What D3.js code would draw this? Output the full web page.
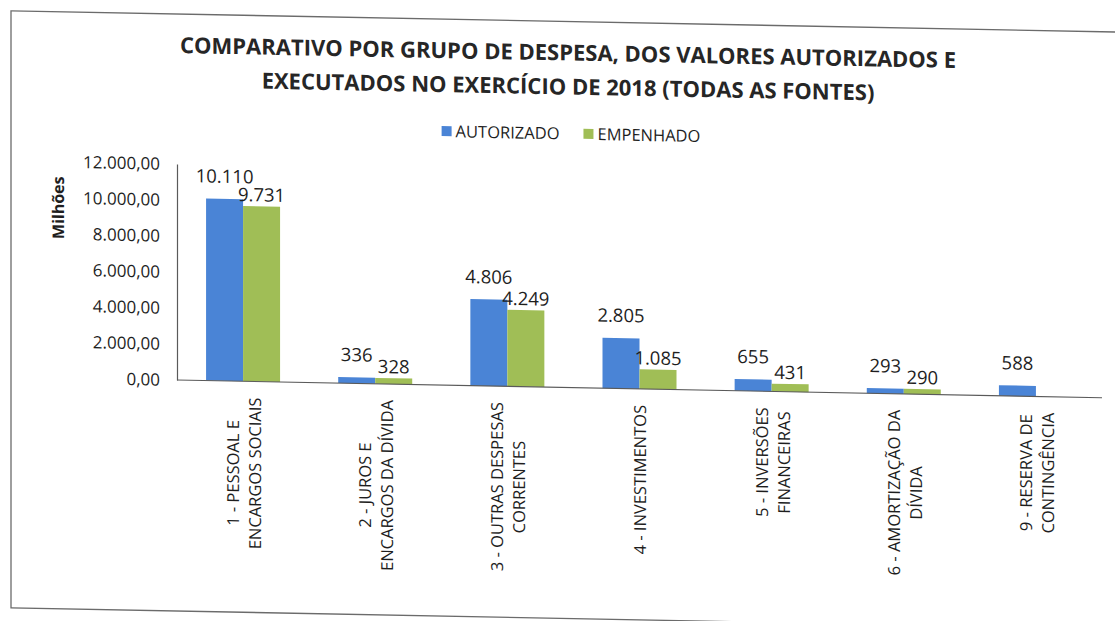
<!DOCTYPE html>
<html>
<head>
<meta charset="utf-8">
<script src="https://cdn.jsdelivr.net/npm/d3@7"></script>
<style>
  body { margin: 0; background: #ffffff; }
  text { font-family: "Open Sans", "Noto Sans", sans-serif; fill: #1e1e1e; }
</style>
</head>
<body>
<svg id="chart" width="1115" height="621"></svg>
<script>
// Chart data
var categories = [
  ["1 - PESSOAL E", "ENCARGOS SOCIAIS"],
  ["2 - JUROS E", "ENCARGOS DA DÍVIDA"],
  ["3 - OUTRAS DESPESAS", "CORRENTES"],
  ["4 - INVESTIMENTOS"],
  ["5 - INVERSÕES", "FINANCEIRAS"],
  ["6 - AMORTIZAÇÃO DA", "DÍVIDA"],
  ["9 - RESERVA DE", "CONTINGÊNCIA"]
];
var seriesNames = ["AUTORIZADO", "EMPENHADO"];
var autorizado = [10110, 336, 4806, 2805, 655, 293, 588];
var empenhado = [9731, 328, 4249, 1085, 431, 290, null];
var yTicks = [0, 2000, 4000, 6000, 8000, 10000, 12000];
var titleLines = [
  "COMPARATIVO POR GRUPO DE DESPESA, DOS VALORES AUTORIZADOS E",
  "EXECUTADOS NO EXERCÍCIO DE 2018 (TODAS AS FONTES)"
];
var yLabel = "Milhões";

var colors = ["#4a84d6", "#a0be56"];

// Layout (names avoid window.top etc.)
var plotLeft = 177, plotRight = 1102, plotTop = 164, plotBottom = 380;

var ptBR = d3.formatLocale({ decimal: ",", thousands: ".", grouping: [3], currency: ["R$", ""] });
var tickFmt = ptBR.format(",.2f");
var labelFmt = ptBR.format(",.0f");

var svg = d3.select("#chart");

// scanned page is slightly skewed
var g = svg.append("g")
  .attr("transform", "translate(" + plotLeft + "," + plotBottom + ") skewY(1.1) translate(" + (-plotLeft) + "," + (-plotBottom) + ")");

// Frame
g.append("rect")
  .attr("x", 11).attr("y", 14)
  .attr("width", 1160).attr("height", 597)
  .attr("fill", "none")
  .attr("stroke", "#6b6b6b")
  .attr("stroke-width", 1.3);

// Title, one text per line
g.append("g").selectAll("text")
  .data(titleLines)
  .join("text")
  .attr("text-anchor", "middle")
  .style("font-size", "22px")
  .style("font-weight", "bold")
  .style("fill", "#262626")
  .attr("x", 568)
  .attr("y", function(d, i) { return 53 + i * 34; })
  .text(function(d) { return d; });

// Scales
var x0 = d3.scaleBand()
  .domain(d3.range(categories.length))
  .range([plotLeft, plotRight])
  .paddingInner(0.44)
  .paddingOuter(0.22);

var x1 = d3.scaleBand()
  .domain([0, 1])
  .range([0, x0.bandwidth()]);

var y = d3.scaleLinear()
  .domain([0, 12000])
  .range([plotBottom, plotTop]);

// Y axis
var yAxis = g.append("g")
  .attr("transform", "translate(" + plotLeft + ",0)")
  .call(d3.axisLeft(y).tickValues(yTicks).tickFormat(tickFmt).tickSize(0).tickPadding(17));
yAxis.select(".domain").attr("stroke", "#5a5a5a").attr("stroke-width", 1.2);
yAxis.selectAll("text")
  .style("font-size", "17px")
  .style("font-family", "'Open Sans', sans-serif")
  .style("fill", "#1e1e1e");

// Y label
g.append("text")
  .attr("transform", "translate(58,210) rotate(-90)")
  .attr("text-anchor", "middle")
  .attr("dominant-baseline", "central")
  .style("font-size", "16px")
  .style("font-weight", "bold")
  .text(yLabel);

// Bars
var rows = categories.map(function(c, i) {
  return { i: i, values: [autorizado[i], empenhado[i]] };
});

var groups = g.append("g").selectAll("g")
  .data(rows)
  .join("g")
  .attr("transform", function(d) { return "translate(" + x0(d.i) + ",0)"; });

var cells = groups.selectAll("g")
  .data(function(d) {
    return d.values.map(function(v, s) { return { s: s, v: v }; })
      .filter(function(e) { return e.v != null; });
  })
  .join("g");

cells.append("rect")
  .attr("x", function(d) { return x1(d.s); })
  .attr("y", function(d) { return y(d.v); })
  .attr("width", x1.bandwidth())
  .attr("height", function(d) { return y(0) - y(d.v); })
  .attr("fill", function(d) { return colors[d.s]; });

// data labels (blue labels sit a bit higher in the original)
cells.append("text")
  .attr("x", function(d) { return x1(d.s) + x1.bandwidth() / 2; })
  .attr("y", function(d) { return y(d.v) - (d.s === 0 ? 16 : 5); })
  .attr("text-anchor", "middle")
  .style("font-size", "18.5px")
  .text(function(d) { return labelFmt(d.v); });

// X axis line
g.append("line")
  .attr("x1", plotLeft).attr("x2", plotRight)
  .attr("y1", plotBottom).attr("y2", plotBottom)
  .attr("stroke", "#5a5a5a")
  .attr("stroke-width", 1.2);

// Category labels, rotated
var catFont = 16.5, lineGap = 22, labelTop = 396;
var catLabels = g.append("g").selectAll("text")
  .data(categories)
  .join("text")
  .attr("text-anchor", "middle")
  .attr("dominant-baseline", "central")
  .style("font-size", catFont + "px");

catLabels.selectAll("tspan")
  .data(function(d) { return d.map(function(t, j) { return { t: t, j: j, n: d.length }; }); })
  .join("tspan")
  .attr("x", 0)
  .attr("y", function(d) { return (d.j - (d.n - 1) / 2) * lineGap; })
  .attr("dominant-baseline", "central")
  .text(function(d) { return d.t; });

catLabels.each(function(d, i) {
  var maxLen = 0;
  d3.select(this).selectAll("tspan").each(function() {
    maxLen = Math.max(maxLen, this.getComputedTextLength());
  });
  var cx = x0(i) + x0.bandwidth() / 2;
  d3.select(this).attr("transform", "translate(" + cx + "," + (labelTop + maxLen / 2) + ") rotate(-90)");
});

// Legend
var legend = g.append("g");
var legendItems = legend.selectAll("g")
  .data(seriesNames)
  .join("g");
legendItems.append("rect")
  .attr("width", 10).attr("height", 10)
  .attr("y", 121)
  .attr("fill", function(d, i) { return colors[i]; });
legendItems.append("text")
  .attr("x", 14)
  .attr("y", 132)
  .style("font-size", "16.5px")
  .text(function(d) { return d; });

var xPos = 0, positions = [];
legendItems.each(function() {
  positions.push(xPos);
  xPos += this.getBBox().width + 24;
});
var legendWidth = xPos - 24;
var legendStart = 571 - legendWidth / 2;
legendItems.attr("transform", function(d, i) { return "translate(" + (legendStart + positions[i]) + ",0)"; });
</script>
</body>
</html>
